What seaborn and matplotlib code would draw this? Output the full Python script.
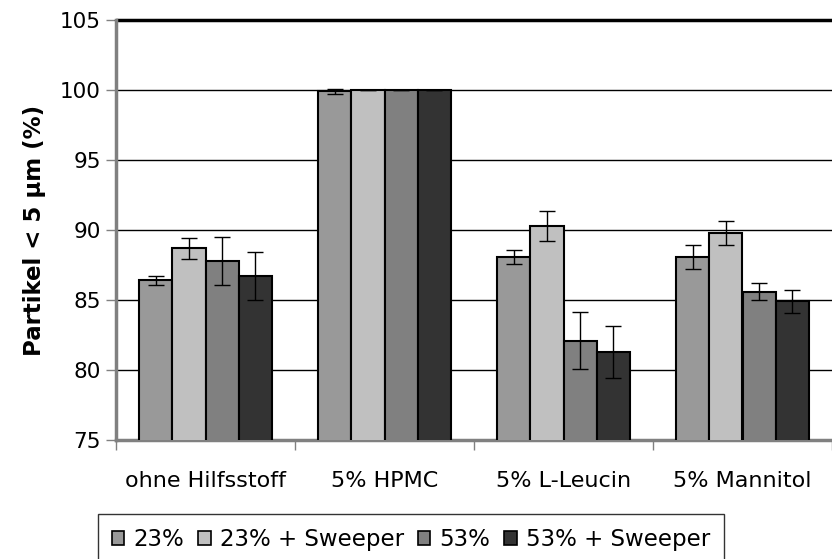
import numpy as np
import pandas as pd
import matplotlib
matplotlib.use("Agg")
import matplotlib.pyplot as plt
import seaborn as sns

# Werte
gruppen = ["ohne Hilfsstoff", "5% HPMC", "5% L-Leucin", "5% Mannitol"]
serien = ["23%", "23% + Sweeper", "53%", "53% + Sweeper"]
farben = ["#999999", "#c0c0c0", "#808080", "#333333"]

w_23 = [86.4, 99.9, 88.1, 88.1]
w_23_sw = [88.7, 100.0, 90.3, 89.8]
w_53 = [87.8, 100.0, 82.1, 85.6]
w_53_sw = [86.7, 100.0, 81.3, 84.9]

sd_23 = [0.3, 0.2, 0.5, 0.85]
sd_23_sw = [0.75, 0.0, 1.05, 0.85]
sd_53 = [1.7, 0.0, 2.05, 0.6]
sd_53_sw = [1.7, 0.0, 1.85, 0.85]

werte = [w_23, w_23_sw, w_53, w_53_sw]
fehler = [sd_23, sd_23_sw, sd_53, sd_53_sw]

df = pd.DataFrame(
    {
        "Gruppe": [g for s in serien for g in gruppen],
        "Serie": [s for s in serien for g in gruppen],
        "Wert": [v for w in werte for v in w],
        "SD": [e for f in fehler for e in f],
    }
)

sns.set_theme(style="white")
plt.rcParams["font.family"] = ["DejaVu Sans"]
plt.rcParams["text.color"] = "black"
plt.rcParams["axes.labelcolor"] = "black"
plt.rcParams["xtick.color"] = "black"
plt.rcParams["ytick.color"] = "black"

fig = plt.figure(figsize=(8.32, 5.59), dpi=100)
ax = fig.add_axes([116 / 832, 1 - 440 / 559, 716 / 832, 420 / 559])

sns.barplot(
    data=df,
    x="Gruppe",
    y="Wert",
    hue="Serie",
    order=gruppen,
    hue_order=serien,
    palette=farben,
    width=0.74,
    errorbar=None,
    edgecolor="black",
    linewidth=1.5,
    saturation=1,
    ax=ax,
    zorder=3,
)

# Fehlerbalken auf die Balkenmitten setzen
for cont, s in zip(ax.containers, serien):
    sub = df[df["Serie"] == s]
    xs = [p.get_x() + p.get_width() / 2 for p in cont.patches]
    ys = [p.get_height() for p in cont.patches]
    ax.errorbar(
        xs, ys, yerr=sub["SD"].values, fmt="none",
        ecolor="black", elinewidth=1, capsize=6, capthick=1, zorder=4,
    )

ax.set_ylim(75, 105)
ax.set_xlim(-0.5, 3.5)
ax.set_yticks([75, 80, 85, 90, 95, 100, 105])
for y in [80, 85, 90, 95, 100]:
    ax.axhline(y, color="black", lw=1, zorder=1)
ax.axhline(105, color="black", lw=2.5, zorder=1, clip_on=False)

ax.set_xlabel("")
ax.set_ylabel("Partikel < 5 µm (%)", fontsize=16.5, fontweight="bold", labelpad=10)
ax.tick_params(axis="y", labelsize=15.5, direction="out", length=7, color="#808080", width=1, left=True, pad=4)
ax.tick_params(axis="x", labelsize=16, length=0, pad=22)
ax.set_xticks([-0.5, 0.5, 1.5, 2.5, 3.5], minor=True)
ax.tick_params(axis="x", which="minor", direction="out", length=7, color="#808080", width=1, bottom=True)

for side in ["top", "right"]:
    ax.spines[side].set_visible(False)
for side in ["left", "bottom"]:
    ax.spines[side].set_color("#808080")
    ax.spines[side].set_linewidth(2.5)

ax.get_legend().remove()
handles = [plt.Rectangle((0, 0), 1, 1, facecolor=c, edgecolor="black", lw=1.2) for c in farben]
leg = fig.legend(
    handles, serien, loc="upper center", bbox_to_anchor=(411 / 832, 1 - 514 / 559),
    ncol=4, fontsize=16.5, frameon=True, fancybox=False, edgecolor="black",
    handlelength=0.55, handleheight=0.55, handletextpad=0.4, columnspacing=0.6,
    borderpad=0.6, borderaxespad=0,
)
leg.get_frame().set_linewidth(1)

fig.savefig("out.png", dpi=100)
